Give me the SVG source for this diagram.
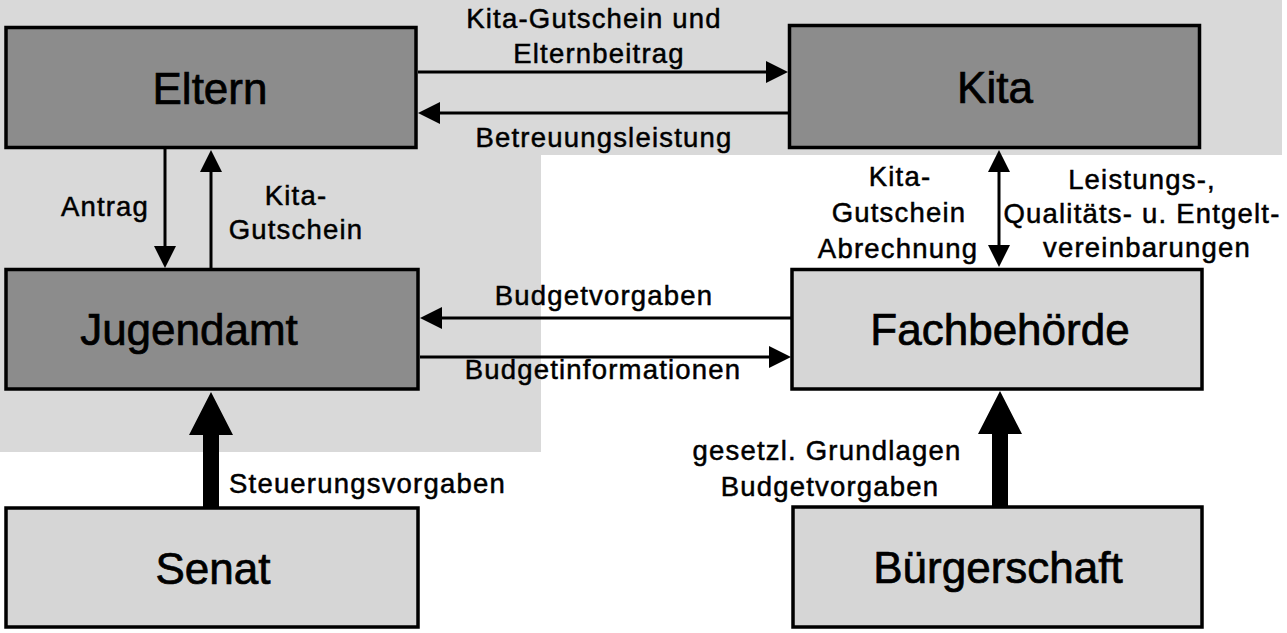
<svg xmlns="http://www.w3.org/2000/svg" width="1287" height="633" viewBox="0 0 1287 633">
<style>
.node rect{stroke:#000;stroke-width:3.5}
.dark rect{fill:#8c8c8c}
.light rect{fill:#d6d6d6}
.node text{font-family:"Liberation Sans",Arial,sans-serif;font-size:44px;fill:#000;stroke:#000;stroke-width:0.7px;text-anchor:middle}
.lbl{font-family:"Liberation Sans",Arial,sans-serif;font-size:27.5px;letter-spacing:1.2px;fill:#000;stroke:#000;stroke-width:0.5px;text-anchor:middle}
.edge{stroke:#000;stroke-width:3;fill:none}
</style>
<defs>
<marker id="ah" viewBox="0 0 22 22" refX="12" refY="11" markerWidth="22" markerHeight="22" markerUnits="userSpaceOnUse" orient="auto-start-reverse">
<path d="M0,0 L22,11 L0,22 z" fill="#000"/>
</marker>
</defs>
<rect x="0" y="0" width="1287" height="633" fill="#ffffff"/>
<path d="M0,0 H1282 V155 H541 V452 H0 Z" fill="#d9d9d9"/>

<g id="connectors">
<line class="edge" x1="418" y1="72" x2="778" y2="72" marker-end="url(#ah)"/>
<line class="edge" x1="788" y1="113" x2="428" y2="113" marker-end="url(#ah)"/>
<line class="edge" x1="165" y1="149" x2="165" y2="258" marker-end="url(#ah)"/>
<line class="edge" x1="211" y1="268" x2="211" y2="160" marker-end="url(#ah)"/>
<line class="edge" x1="791" y1="318" x2="430" y2="318" marker-end="url(#ah)"/>
<line class="edge" x1="420" y1="357" x2="781" y2="357" marker-end="url(#ah)"/>
<line class="edge" x1="999" y1="160" x2="999" y2="257" marker-start="url(#ah)" marker-end="url(#ah)"/>
<polygon points="203,507 203,435 189,435 211,392 233,435 219,435 219,507" fill="#000"/>
<polygon points="992,506 992,434 978,434 1000,391 1022,434 1008,434 1008,506" fill="#000"/>
<text class="lbl" x="594" y="28">Kita-Gutschein und</text>
<text class="lbl" x="599" y="63">Elternbeitrag</text>
<text class="lbl" x="604" y="147">Betreuungsleistung</text>
<text class="lbl" x="105" y="216">Antrag</text>
<text class="lbl" x="296" y="205">Kita-</text>
<text class="lbl" x="296" y="239">Gutschein</text>
<text class="lbl" x="604" y="305">Budgetvorgaben</text>
<text class="lbl" x="603" y="379">Budgetinformationen</text>
<text class="lbl" x="900" y="186">Kita-</text>
<text class="lbl" x="899" y="222">Gutschein</text>
<text class="lbl" x="898" y="258">Abrechnung</text>
<text class="lbl" x="1142" y="189">Leistungs-,</text>
<text class="lbl" x="1142" y="223">Qualitäts- u. Entgelt-</text>
<text class="lbl" x="1147" y="257">vereinbarungen</text>
<text class="lbl" x="229" y="493" style="text-anchor:start">Steuerungsvorgaben</text>
<text class="lbl" x="827" y="460">gesetzl. Grundlagen</text>
<text class="lbl" x="830" y="496">Budgetvorgaben</text>
</g>

<g id="eltern" class="node dark"><rect x="6" y="27.5" width="410" height="120"/><text x="210" y="104">Eltern</text></g>
<g id="kita" class="node dark"><rect x="789.5" y="25.5" width="410" height="122"/><text x="995" y="103">Kita</text></g>
<g id="jugendamt" class="node dark"><rect x="6" y="269.5" width="412" height="119.5"/><text x="189" y="345">Jugendamt</text></g>
<g id="fachbehoerde" class="node light"><rect x="792" y="269.5" width="410" height="119.5"/><text x="1000" y="345">Fachbehörde</text></g>
<g id="senat" class="node light"><rect x="6" y="508" width="412" height="119"/><text x="213" y="584">Senat</text></g>
<g id="buergerschaft" class="node light"><rect x="793" y="507" width="409" height="120"/><text x="998" y="583">Bürgerschaft</text></g>
</svg>
